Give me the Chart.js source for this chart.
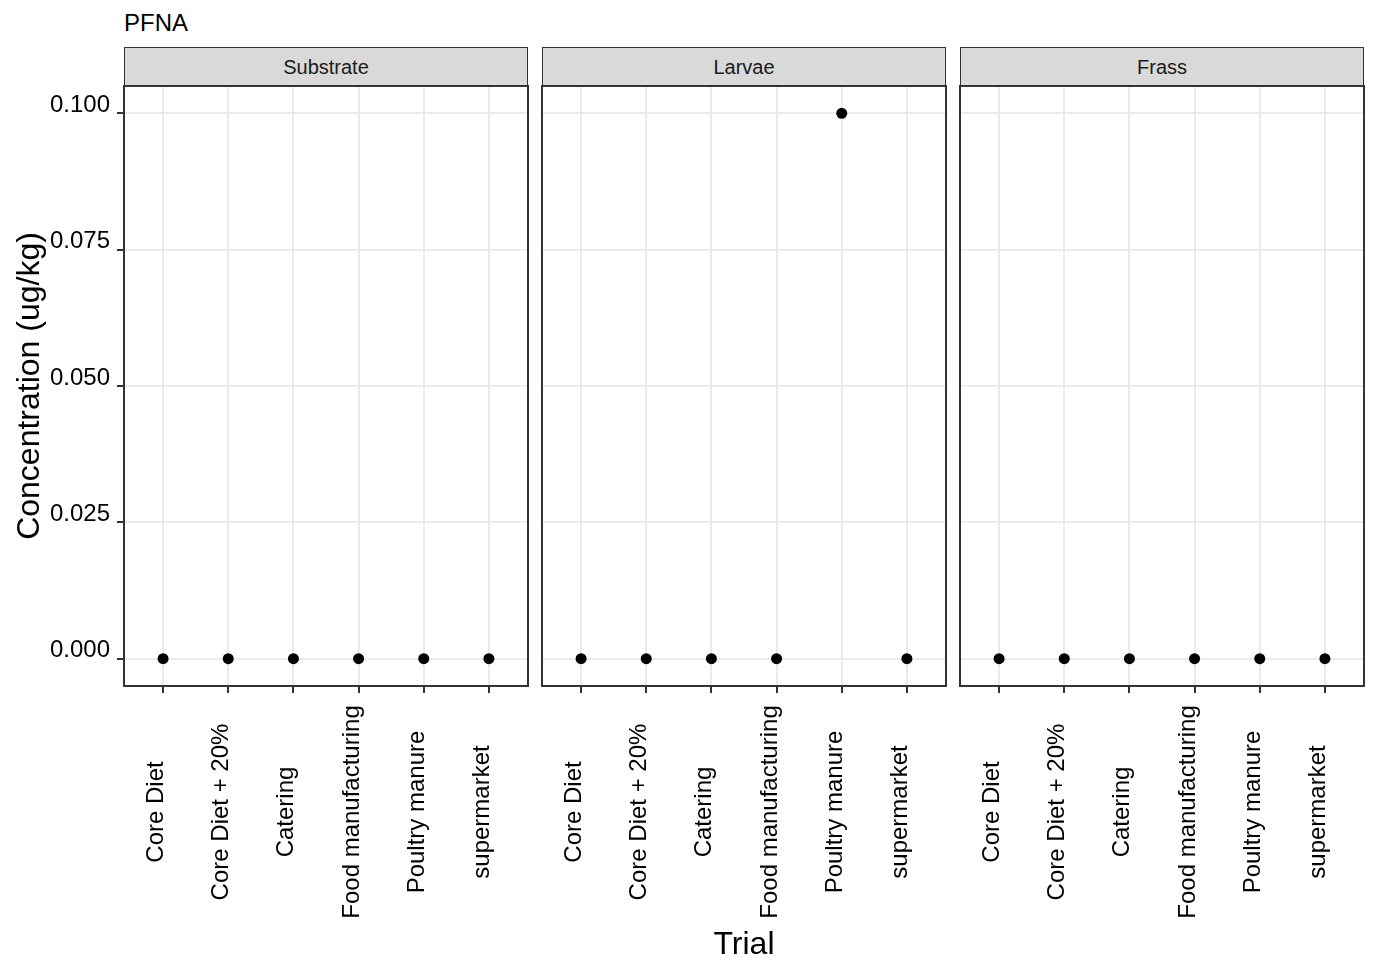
<!DOCTYPE html>
<html>
<head>
<meta charset="utf-8">
<script src="https://cdn.jsdelivr.net/npm/chart.js@4.4.1/dist/chart.umd.min.js"></script>
<style>
  body {
    margin: 0;
    background: #fff;
    width: 1378px;
    height: 974px;
    position: relative;
    overflow: hidden;
    font-family: "Liberation Sans", Arial, sans-serif;
  }
  .title {
    position: absolute;
    left: 124px;
    top: 11px;
    font-size: 24px;
    line-height: 24px;
    color: #000;
  }
  .strip {
    position: absolute;
    top: 47px;
    height: 39px;
    width: 404px;
    box-sizing: border-box;
    border: 1px solid #333;
    border-bottom: none;
    background: #d9d9d9;
    color: #1a1a1a;
    font-size: 20px;
    display: flex;
    align-items: center;
    justify-content: center;
  }
  .panel {
    position: absolute;
    top: 84px;
    height: 890px;
  }
</style>
</head>
<body>
<div class="title">PFNA</div>
<div id="strips"></div>
<div id="panels"></div>

<script>
// ===== DATA =====
const categories = [
  "Core Diet",
  "Core Diet + 20%",
  "Catering",
  "Food manufacturing",
  "Poultry manure",
  "supermarket",
];
const facets = ["Substrate", "Larvae", "Frass"];
const substrateValues = [0, 0, 0, 0, 0, 0];
const larvaeValues = [0, 0, 0, 0, 0.1, 0];
const frassValues = [0, 0, 0, 0, 0, 0];
const yTicks = [0, 0.025, 0.05, 0.075, 0.1];

const FONT = "'Liberation Sans', Arial, sans-serif";

// scale paddings would push the plot area around; panels must line up
function noPadding(s) {
  s.paddingTop = 0;
  s.paddingBottom = 0;
  s.paddingLeft = 0;
  s.paddingRight = 0;
}

// panel frame + rotated, centred category labels
const panelFrame = {
  id: "panelFrame",
  afterDraw(chart) {
    const { ctx, chartArea } = chart;
    const xs = chart.scales.x;
    ctx.save();
    ctx.strokeStyle = "#333333";
    ctx.lineWidth = 2;
    ctx.strokeRect(
      chartArea.left,
      chartArea.top,
      chartArea.right - chartArea.left,
      chartArea.bottom - chartArea.top,
    );

    ctx.fillStyle = "#000";
    ctx.font = "24px " + FONT;
    ctx.textAlign = "center";
    ctx.textBaseline = "alphabetic";
    categories.forEach((label, i) => {
      const px = xs.getPixelForValue(i);
      ctx.save();
      ctx.translate(px, xs.top + 126);
      ctx.rotate(-Math.PI / 2);
      ctx.fillText(label, 0, 0);
      ctx.restore();
    });
    ctx.restore();
  },
};

const panels = [
  { name: facets[0], values: substrateValues, left: 0, width: 530, padLeft: 0, showY: true, showXTitle: false },
  { name: facets[1], values: larvaeValues, left: 540, width: 408, padLeft: 2, showY: false, showXTitle: true },
  { name: facets[2], values: frassValues, left: 958, width: 408, padLeft: 2, showY: false, showXTitle: false },
];

const stripBox = document.getElementById("strips");
const panelBox = document.getElementById("panels");

panels.forEach((p) => {
  const strip = document.createElement("div");
  strip.className = "strip";
  strip.style.left = p.left + p.padLeft + (p.showY ? 124 : 0) + "px";
  strip.textContent = p.name;
  stripBox.appendChild(strip);

  const wrap = document.createElement("div");
  wrap.className = "panel";
  wrap.style.left = p.left + "px";
  wrap.style.width = p.width + "px";
  const canvas = document.createElement("canvas");
  wrap.appendChild(canvas);
  panelBox.appendChild(wrap);

  new Chart(canvas, {
    type: "scatter",
    data: {
      datasets: [
        {
          data: p.values.map((v, i) => ({ x: i, y: v })),
          backgroundColor: "#000",
          borderWidth: 0,
          pointRadius: 5.5,
        },
      ],
    },
    options: {
      responsive: true,
      maintainAspectRatio: false,
      animation: false,
      layout: {
        autoPadding: false,
        padding: { left: p.padLeft, right: 2, top: 2, bottom: 0 },
      },
      plugins: {
        legend: { display: false },
        tooltip: { enabled: false },
      },
      scales: {
        x: {
          type: "linear",
          min: -0.6,
          max: 5.6,
          afterBuildTicks: (s) => {
            s.ticks = categories.map((c, i) => ({ value: i }));
          },
          afterFit: (s) => {
            s.height = 288;
            noPadding(s);
          },
          ticks: { display: false },
          grid: {
            color: "#ebebeb",
            lineWidth: 2,
            tickColor: "#333333",
            tickLength: 7,
            drawTicks: true,
          },
          border: { display: false },
          title: {
            display: p.showXTitle,
            text: "Trial",
            color: "#000",
            font: { size: 32, family: FONT },
            padding: { top: 0, bottom: 10 },
          },
        },
        y: {
          min: -0.005,
          max: 0.105,
          afterBuildTicks: (s) => {
            s.ticks = yTicks.map((v) => ({ value: v }));
          },
          afterFit: (s) => {
            s.width = p.showY ? 124 : 0;
            noPadding(s);
          },
          ticks: {
            display: p.showY,
            callback: (v) => v.toFixed(3),
            color: "#000",
            font: { size: 24, family: FONT },
            padding: 7,
            labelOffset: -8,
          },
          grid: {
            color: "#ebebeb",
            lineWidth: 2,
            tickColor: "#333333",
            tickLength: 7,
            drawTicks: p.showY,
          },
          border: { display: false },
          title: {
            display: p.showY,
            text: "Concentration (ug/kg)",
            color: "#000",
            font: { size: 32, family: FONT },
            padding: { top: 11, bottom: 0 },
          },
        },
      },
    },
    plugins: [panelFrame],
  });
});
</script>
</body>
</html>
